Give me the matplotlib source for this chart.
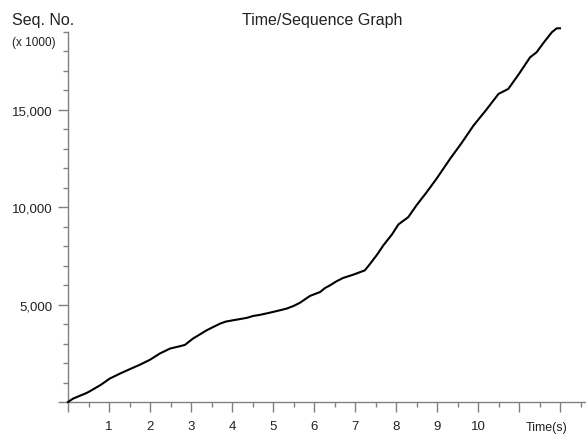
import numpy as np
import matplotlib.pyplot as plt
from matplotlib.ticker import MultipleLocator, FixedLocator, FuncFormatter

# time (s) and sequence number (x 1000)
time_s = [0.0, 0.12, 0.29, 0.45, 0.54, 0.8, 1.02, 1.27, 1.5, 1.76, 2.0, 2.24, 2.49,
          2.7, 2.85, 3.05, 3.2, 3.38, 3.55, 3.71, 3.85, 4.02, 4.2, 4.36, 4.52,
          4.67, 4.93, 5.15, 5.33, 5.5, 5.66, 5.9, 6.15, 6.27, 6.39, 6.55, 6.71,
          6.96, 7.24, 7.37, 7.55, 7.69, 7.9, 8.06, 8.3, 8.5, 8.75, 9.0, 9.32,
          9.6, 9.89, 10.2, 10.5, 10.74, 11.0, 11.27, 11.43, 11.6, 11.8, 11.92, 12.0]
seq_no = [0, 170, 320, 460, 560, 880, 1205, 1460, 1680, 1920, 2170, 2490, 2745,
          2850, 2930, 3260, 3450, 3680, 3860, 4025, 4130, 4195, 4260, 4320, 4420,
          4470, 4590, 4700, 4795, 4930, 5100, 5445, 5650, 5855, 5990, 6200, 6370,
          6540, 6760, 7100, 7600, 8040, 8600, 9120, 9495, 10100, 10780, 11500, 12490,
          13300, 14195, 15000, 15820, 16080, 16850, 17700, 17960, 18450, 18985, 19190, 19190]

x_labels = [1, 2, 3, 4, 5, 6, 7, 8, 9, 10]
y_labels = [5000, 10000, 15000]

plt.rcParams['font.family'] = ['Liberation Sans', 'DejaVu Sans']

fig = plt.figure(figsize=(5.86, 4.39), dpi=100)
ax = fig.add_axes([68 / 586, 36 / 439, 518 / 586, 370 / 439])

ax.plot(time_s, seq_no, color='black', linewidth=1.5, clip_on=False, zorder=3)

ax.set_xlim(0, 518 / 41)
ax.set_ylim(0, 19000)

for side in ['top', 'right']:
    ax.spines[side].set_visible(False)
for side in ['left', 'bottom']:
    ax.spines[side].set_color('#808080')
    ax.spines[side].set_linewidth(1.0)

ax.xaxis.set_major_locator(MultipleLocator(1))
ax.xaxis.set_minor_locator(MultipleLocator(0.5))
ax.xaxis.set_major_formatter(FuncFormatter(lambda v, p: '%d' % v if int(round(v)) in x_labels else ''))
ax.yaxis.set_major_locator(FixedLocator([0, 5000, 10000, 15000]))
ax.yaxis.set_minor_locator(MultipleLocator(1000))
ax.yaxis.set_major_formatter(FuncFormatter(lambda v, p: '{:,}'.format(int(v)) if int(v) in y_labels else ''))

ax.tick_params(axis='both', which='major', direction='out', length=7, width=1,
               color='#808080', labelsize=9.5, labelcolor='#222222')
ax.tick_params(axis='both', which='minor', direction='out', length=3.6, width=1, color='#808080')
ax.tick_params(axis='x', which='major', pad=6)
ax.tick_params(axis='y', which='major', pad=4)

fig.text(12 / 586, 1 - 20 / 439, 'Seq. No.', fontsize=11.5, color='#222222', va='center', ha='left')
fig.text(12 / 586, 1 - 43 / 439, '(x 1000)', fontsize=8.5, color='#222222', va='center', ha='left')
fig.text(322 / 586, 1 - 20 / 439, 'Time/Sequence Graph', fontsize=11.5, color='#222222', va='center', ha='center')
fig.text(547 / 586, 1 - 428 / 439, 'Time(s)', fontsize=9, color='#222222', va='center', ha='center')

fig.savefig('out.png', dpi=100)
